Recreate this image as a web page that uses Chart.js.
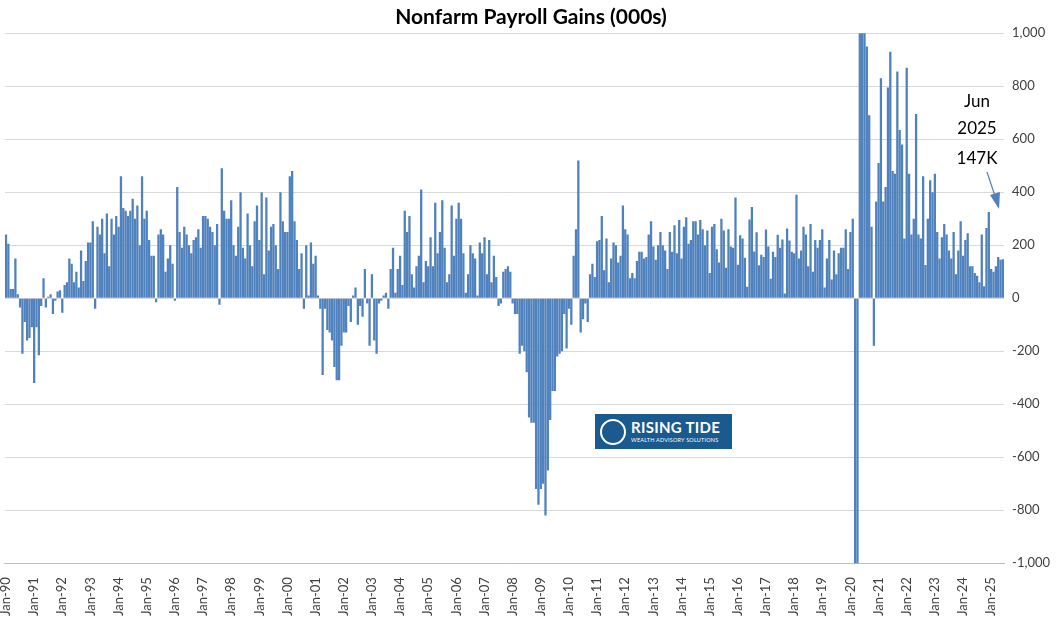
<!DOCTYPE html>
<html>
<head>
<meta charset="utf-8">
<script src="https://cdn.jsdelivr.net/npm/chart.js@4"></script>
<style>
  body { margin: 0; background: #fff; }
  #wrap { position: relative; width: 1064px; height: 624px; }
  #logo { position: absolute; left: 595px; top: 414px; width: 137px; height: 35px; background: #1a5a8e;
    color: #fff; font-family: Lato, sans-serif; white-space: nowrap; }
  #logo .t { position: absolute; left: 36px; top: 4px; font-size: 15px; font-weight: bold; letter-spacing: 0.3px; }
  #logo .s { position: absolute; left: 36px; top: 23px; font-size: 5.5px; letter-spacing: 0.2px; }
  #logo .c { position: absolute; left: 5px; top: 5px; width: 22px; height: 22px; border-radius: 50%; border: 2px solid #fff; }
</style>
</head>
<body>
<div id="wrap">
  <canvas id="graph" width="1064" height="624"></canvas>
  <div id="logo"><div class="c"></div><div class="t">RISING TIDE</div><div class="s">WEALTH ADVISORY SOLUTIONS</div></div>
</div>
<script>
// monthly payroll changes, thousands, one row per year
let y1990 = [240, 205, 35, 35, 150, 15, -35, -210, -90, -160, -150, -110]
let y1991 = [-320, -110, -215, -30, 75, -35, 5, 15, -60, -10, 25, 30]
let y1992 = [-55, 50, 60, 150, 130, 60, 100, 40, 180, 65, 140, 210]
let y1993 = [210, 290, -40, 270, 240, 300, 170, 320, 120, 300, 240, 310]
let y1994 = [270, 460, 340, 330, 310, 330, 375, 300, 350, 200, 460, 300]
let y1995 = [330, 220, 160, 160, -15, 240, 260, 240, 100, 150, 200, 130]
let y1996 = [-10, 420, 250, 190, 270, 240, 200, 170, 220, 230, 260, 190]
let y1997 = [310, 310, 300, 270, 250, 200, 280, -25, 490, 330, 300, 300]
let y1998 = [370, 200, 160, 270, 400, 190, 150, 320, 200, 120, 290, 350]
let y1999 = [220, 400, 90, 380, 180, 270, 280, 200, 110, 400, 290, 250]
let y2000 = [250, 460, 480, 290, 220, 110, 170, -40, 200, 10, 210, 130]
let y2001 = [160, 10, -40, -290, -40, -120, -130, -160, -260, -310, -310, -180]
let y2002 = [-130, -130, -30, -90, 10, 40, -100, -30, -70, 110, -20, -180]
let y2003 = [90, -160, -210, -20, -10, 10, 20, -40, 110, 190, 20, 110]
let y2004 = [160, 50, 330, 250, 310, 90, 40, 120, 160, 410, 60, 140]
let y2005 = [120, 230, 120, 360, 170, 250, 370, 190, 60, 90, 350, 160]
let y2006 = [300, 360, 300, 170, 20, 90, 200, 170, 150, 10, 210, 170]
let y2007 = [230, 90, 220, 60, 160, 80, -30, -20, 100, 110, 120, 100]
let y2008 = [-20, -60, -60, -210, -180, -200, -280, -450, -470, -470, -720, -780]
let y2009 = [-720, -700, -820, -650, -460, -350, -350, -220, -210, -200, -60, -190]
let y2010 = [-40, -100, 160, 260, 520, -130, -80, -20, -90, 90, 130, 80]
let y2011 = [215, 220, 310, 105, 225, 60, 150, 210, 200, 135, 160, 350]
let y2012 = [260, 240, 75, 95, 75, 140, 175, 175, 150, 155, 240, 290]
let y2013 = [195, 145, 200, 250, 200, 180, 110, 250, 175, 275, 170, 295]
let y2014 = [150, 270, 305, 205, 220, 290, 290, 240, 295, 260, 200, 255]
let y2015 = [95, 270, 280, 185, 135, 300, 255, 115, 260, 195, 190, 380]
let y2016 = [126, 237, 225, 153, 43, 297, 344, 176, 249, 124, 164, 155]
let y2017 = [259, 195, 73, 175, 155, 239, 190, 221, 18, 263, 218, 175]
let y2018 = [170, 390, 150, 180, 270, 240, 120, 280, 100, 220, 190, 220]
let y2019 = [260, 40, 150, 220, 70, 180, 90, 170, 190, 190, 260, 110]
let y2020 = [250, 300, -1370, -20500, 2700, 4500, 1700, 950, 690, 270, -180, 365]
let y2021 = [510, 830, 365, 420, 795, 930, 480, 470, 855, 635, 580, 225]
let y2022 = [870, 470, 240, 300, 695, 240, 225, 460, 125, 300, 445, 400]
let y2023 = [470, 250, 150, 230, 280, 240, 180, 150, 250, 90, 180, 290]
let y2024 = [160, 220, 245, 120, 120, 95, 85, 60, 240, 45, 265, 325]
let y2025 = [110, 100, 120, 155, 145, 147]

let years = [y1990, y1991, y1992, y1993, y1994, y1995, y1996, y1997, y1998, y1999,
  y2000, y2001, y2002, y2003, y2004, y2005, y2006, y2007, y2008, y2009,
  y2010, y2011, y2012, y2013, y2014, y2015, y2016, y2017, y2018, y2019,
  y2020, y2021, y2022, y2023, y2024, y2025]
let monthNames = ['Jan', 'Feb', 'Mar', 'Apr', 'May', 'Jun', 'Jul', 'Aug', 'Sep', 'Oct', 'Nov', 'Dec']

let gains = []
let labels = []
years.forEach((vals, i) => {
  let yy = String((1990 + i) % 100).padStart(2, '0')
  vals.forEach((v, m) => {
    gains.push(v)
    labels.push(monthNames[m] + '-' + yy)
  })
})

// callout text + arrow for the last bar
let calloutPlugin = {
  id: 'callout',
  afterDraw(chart) {
    let c = chart.ctx
    c.save()
    c.fillStyle = '#000'
    c.font = '17px Lato'
    c.textAlign = 'center'
    c.fillText('Jun', 977, 107)
    c.fillText('2025', 977, 134)
    c.fillText('147K', 977, 164)
    c.strokeStyle = '#4f81bd'
    c.fillStyle = '#4f81bd'
    c.lineWidth = 1.2
    c.beginPath()
    c.moveTo(987, 172)
    c.lineTo(995, 196)
    c.stroke()
    c.beginPath()
    c.moveTo(999, 209)
    c.lineTo(990, 195)
    c.lineTo(1000, 192)
    c.closePath()
    c.fill()
    c.restore()
  }
}

let ctx = document.getElementById('graph').getContext('2d')
new Chart(ctx, {
  type: 'bar',
  data: {
    labels: labels,
    datasets: [{
      data: gains,
      backgroundColor: '#4f81bd',
      barPercentage: 1,
      categoryPercentage: 0.97
    }]
  },
  options: {
    responsive: false,
    animation: false,
    layout: { padding: { left: 4, right: 6, top: 0, bottom: 2 } },
    plugins: {
      legend: { display: false },
      tooltip: { enabled: false },
      title: {
        display: true,
        text: 'Nonfarm Payroll Gains (000s)',
        color: '#000',
        font: { family: 'Lato', size: 21, weight: 'bold' },
        padding: { top: 5, bottom: 3 }
      }
    },
    scales: {
      x: {
        grid: { display: false },
        border: { color: '#bfbfbf' },
        ticks: {
          autoSkip: false,
          maxRotation: 90,
          minRotation: 90,
          padding: 6,
          color: '#404040',
          font: { family: 'Lato', size: 13 },
          callback: function (v, i) { return i % 12 === 0 ? labels[i] : null }
        }
      },
      y: {
        position: 'right',
        min: -1000,
        max: 1000,
        border: { display: false },
        grid: { color: '#d9d9d9', drawTicks: false },
        ticks: {
          stepSize: 200,
          padding: 8,
          color: '#404040',
          font: { family: 'Lato', size: 13 },
          callback: v => v.toLocaleString('en-US')
        }
      }
    }
  },
  plugins: [calloutPlugin]
})
</script>
</body>
</html>
